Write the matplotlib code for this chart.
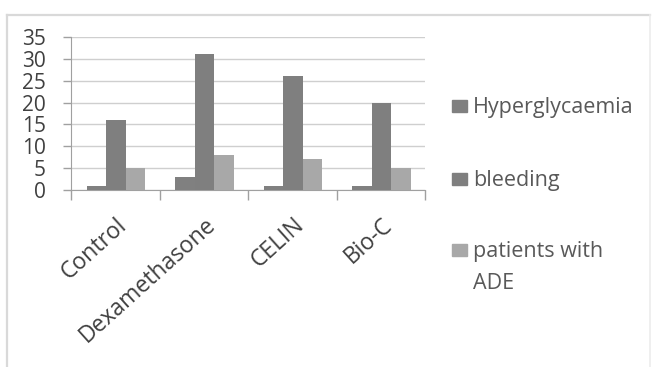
import matplotlib
matplotlib.use("Agg")
import matplotlib.pyplot as plt
from matplotlib.patches import Rectangle
from matplotlib.lines import Line2D
import numpy as np

categories = ["Control", "Dexamethasone", "CELIN", "Bio-C"]
series_names = ["Hyperglycaemia", "bleeding", "patients with\nADE"]
hyperglycaemia = [1, 3, 1, 1]
bleeding = [16, 31, 26, 20]
patients_with_ade = [5, 8, 7, 5]
colors = ["#808080", "#7f7f7f", "#a8a8a8"]
y_ticks = [0, 5, 10, 15, 20, 25, 30, 35]

plt.rcParams["font.family"] = ["Open Sans", "DejaVu Sans"]

W, H = 653, 367
fig = plt.figure(figsize=(W / 100, H / 100), dpi=100)

def fx(px):
    return px / W

def fy(py):
    return 1 - py / H

ax = fig.add_axes([fx(71), fy(190), fx(425) - fx(71), fy(37) - fy(190)])

x = np.arange(len(categories))
bar_w = 0.22
all_series = [hyperglycaemia, bleeding, patients_with_ade]
for i, (vals, c) in enumerate(zip(all_series, colors)):
    ax.bar(x + (i - 1) * bar_w + 0.01, vals, width=bar_w, color=c, zorder=3)

ax.set_xlim(-0.5, len(categories) - 0.5)
ax.set_ylim(0, 35)
ax.set_yticks(y_ticks)
ax.set_yticklabels([str(v) for v in y_ticks], fontsize=15, color="#404040")
ax.yaxis.grid(True, color="#cfcfcf", linewidth=1.0, zorder=0)
ax.tick_params(axis="y", length=6, width=1, color="#a0a0a0", pad=12)

# category tick marks at group boundaries
ax.set_xticks(np.arange(-0.5, len(categories), 1.0))
ax.set_xticklabels([])
ax.tick_params(axis="x", length=7, width=1, color="#a0a0a0")
for i, cat in enumerate(categories):
    ax.annotate(cat, xy=(i + 0.1, 0), xycoords=("data", "axes fraction"),
                xytext=(0, -23), textcoords="offset points",
                rotation=42, ha="right", va="center", rotation_mode="anchor",
                fontsize=16.5, color="#404040")

for side in ["top", "right"]:
    ax.spines[side].set_visible(False)
ax.spines["left"].set_color("#a0a0a0")
ax.spines["bottom"].set_color("#a0a0a0")

# legend: key squares and labels placed by text baseline
legend_baseline = [113, 186, 257]
for name, c, base in zip(series_names, colors, legend_baseline):
    fig.patches.append(Rectangle((fx(452), fy(base - 1)), fx(15), fy(0) - fy(12),
                                 transform=fig.transFigure, color=c))
    lines = name.split("\n")
    for k, line in enumerate(lines):
        fig.text(fx(473), fy(base + 32 * k), line, fontsize=15.5, color="#595959",
                 va="baseline", ha="left")

# chart frame
frame_c = "#d9d9d9"
fig.lines.append(Line2D([fx(7), fx(650)], [fy(15), fy(15)], color=frame_c,
                        linewidth=1.6, transform=fig.transFigure))
fig.lines.append(Line2D([fx(7), fx(7)], [fy(15), fy(367)], color=frame_c,
                        linewidth=1.6, transform=fig.transFigure))
fig.lines.append(Line2D([fx(650), fx(650)], [fy(15), fy(367)], color="#ececec",
                        linewidth=1.2, transform=fig.transFigure))

fig.savefig("out.png", dpi=100)
